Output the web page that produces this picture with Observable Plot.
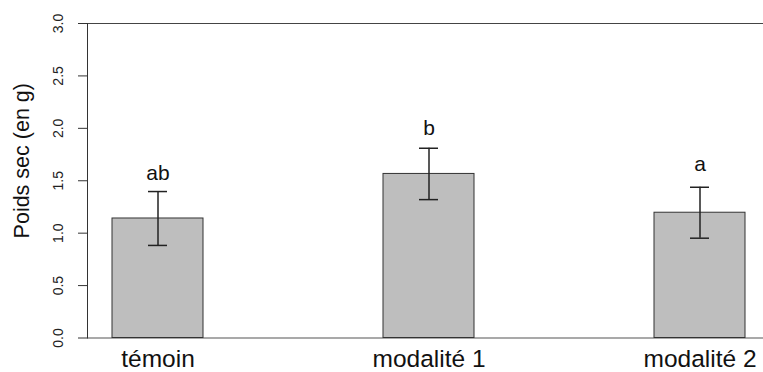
<!DOCTYPE html>
<html><head><meta charset="utf-8">
<script src="https://cdn.jsdelivr.net/npm/d3@7"></script>
<script src="https://cdn.jsdelivr.net/npm/@observablehq/plot@0.6"></script>
<style>body{margin:0;background:#fff} svg{display:block}</style>
</head><body><div id="chart"></div>
<script>
const categories = ["témoin", "modalité 1", "modalité 2"];
const means = [1.14, 1.565, 1.195];
const errors = [0.257, 0.245, 0.243];
const groups = ["ab", "b", "a"];
const labelY = [1.51, 1.94, 1.59];
const yTicks = [0, 0.5, 1, 1.5, 2, 2.5, 3];
const yTitle = "Poids sec (en g)";

const data = categories.map((c, i) => ({
  cat: c, mean: means[i], lo: means[i] - errors[i], hi: means[i] + errors[i],
  group: groups[i], ly: labelY[i]
}));

const chart = Plot.plot({
  width: 763, height: 372,
  marginTop: 23, marginBottom: 34.5, marginLeft: 87, marginRight: 0,
  style: {fontFamily: "'Liberation Sans', Arial, Helvetica, sans-serif", background: "#fff", color: "#222"},
  x: {domain: categories, paddingInner: 0.665, paddingOuter: 0.0766, align: 0.59},
  y: {domain: [0, 3]},
  marks: [
    Plot.ruleY([0], {stroke: "#8c8c8c", strokeWidth: 1.3}),
    Plot.ruleY([3], {stroke: "#444"}),
    Plot.frame({anchor: "left", stroke: "#333"}),
    Plot.barY(data, {x: "cat", y: "mean", fill: "#bebebe", stroke: "#333", strokeWidth: 1}),
    Plot.ruleX(data, {x: "cat", y1: "lo", y2: "hi", stroke: "#222", strokeWidth: 1.5}),
    Plot.tickY(data, {x: "cat", y: "lo", inset: 36, stroke: "#222", strokeWidth: 1.5}),
    Plot.tickY(data, {x: "cat", y: "hi", inset: 36, stroke: "#222", strokeWidth: 1.5}),
    Plot.text(data, {x: "cat", y: "ly", text: "group", fontSize: 21, lineAnchor: "bottom", fill: "#111"}),
    Plot.axisY({ticks: yTicks, tickFormat: ".1f", tickSize: 9, tickRotate: -90, tickPadding: 16, fontSize: 14, label: null, stroke: "#333", fill: "#222"}),
    Plot.axisX({tickSize: 0, tickPadding: 12, fontSize: 24.5, label: null, fill: "#111"}),
    Plot.text([yTitle], {frameAnchor: "left", dx: -65, dy: -20, rotate: -90, textAnchor: "middle", fontSize: 21.5, fill: "#111"})
  ]
});
document.getElementById("chart").appendChild(chart);
</script>
</body></html>
